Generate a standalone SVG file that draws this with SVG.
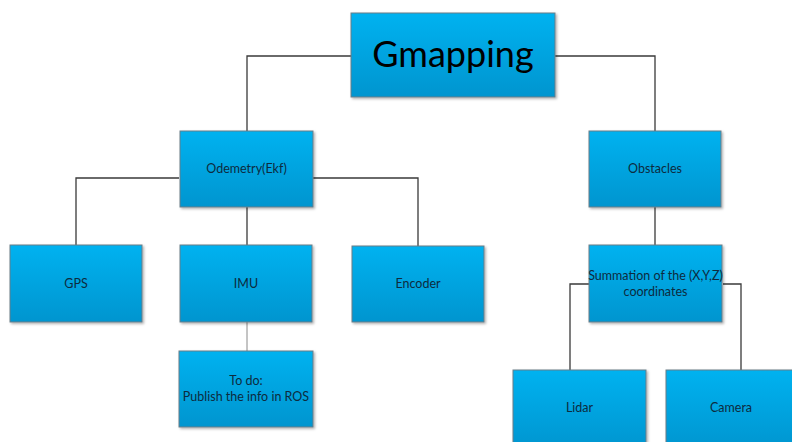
<svg xmlns="http://www.w3.org/2000/svg" width="792" height="442" viewBox="0 0 792 442">
<defs>
<linearGradient id="g" x1="0" y1="0" x2="0" y2="1">
<stop offset="0" stop-color="#00b2f0"/>
<stop offset="1" stop-color="#0095cf"/>
</linearGradient>
<filter id="sh" x="-5%" y="-5%" width="115%" height="115%">
<feDropShadow dx="1.5" dy="1.5" stdDeviation="1" flood-color="#000" flood-opacity="0.3"/>
</filter>
<style>
.box{fill:url(#g);stroke:#6a7d88;stroke-width:1;filter:url(#sh)}
.t{font-family:Lato,"Open Sans","Liberation Sans",sans-serif;font-size:12.5px;fill:#0d2b3e;text-anchor:middle}
.big{font-family:Lato,"Open Sans","Liberation Sans",sans-serif;font-size:36px;fill:#000;text-anchor:middle}
.c{fill:none;stroke:#3a3a3a;stroke-width:1.3}
.c2{fill:none;stroke:#8a8a8a;stroke-width:1}
</style>
</defs>
<rect width="792" height="442" fill="#fff"/>
<g id="connectors">
<path class="c" d="M351 56 H247 V131"/>
<path class="c" d="M555 56 H655 V131"/>
<path class="c" d="M179 178 H76 V245"/>
<path class="c" d="M247 207 V245"/>
<path class="c" d="M313 178 H418 V246"/>
<path class="c" d="M655 207 V245"/>
<path class="c" d="M589 284 H570 V370"/>
<path class="c" d="M723 284 H741 V370"/>
<path class="c2" d="M247 322 V351"/>
</g>
<g id="gmapping"><rect class="box" x="351" y="13" width="204" height="84"/><text class="big" x="453" y="67">Gmapping</text></g>
<g id="odemetry"><rect class="box" x="180" y="131" width="133" height="76"/><text class="t" x="246.5" y="173">Odemetry(Ekf)</text></g>
<g id="obstacles"><rect class="box" x="589" y="131" width="132" height="76"/><text class="t" x="655" y="173">Obstacles</text></g>
<g id="gps"><rect class="box" x="10" y="245" width="132" height="77"/><text class="t" x="76" y="288">GPS</text></g>
<g id="imu"><rect class="box" x="180" y="245" width="132" height="77"/><text class="t" x="246" y="288">IMU</text></g>
<g id="encoder"><rect class="box" x="352" y="246" width="132" height="76"/><text class="t" x="418" y="288">Encoder</text></g>
<g id="summation"><rect class="box" x="589" y="245" width="133" height="77"/><text class="t" x="655.5" y="280">Summation of the (X,Y,Z)</text><text class="t" x="655.5" y="296">coordinates</text></g>
<g id="todo"><rect class="box" x="179" y="351" width="134" height="76"/><text class="t" x="246" y="385">To do:</text><text class="t" x="246" y="401">Publish the info in ROS</text></g>
<g id="lidar"><rect class="box" x="513" y="370" width="133" height="80"/><text class="t" x="579.5" y="412">Lidar</text></g>
<g id="camera"><rect class="box" x="666" y="370" width="133" height="80"/><text class="t" x="731" y="412">Camera</text></g>
</svg>
